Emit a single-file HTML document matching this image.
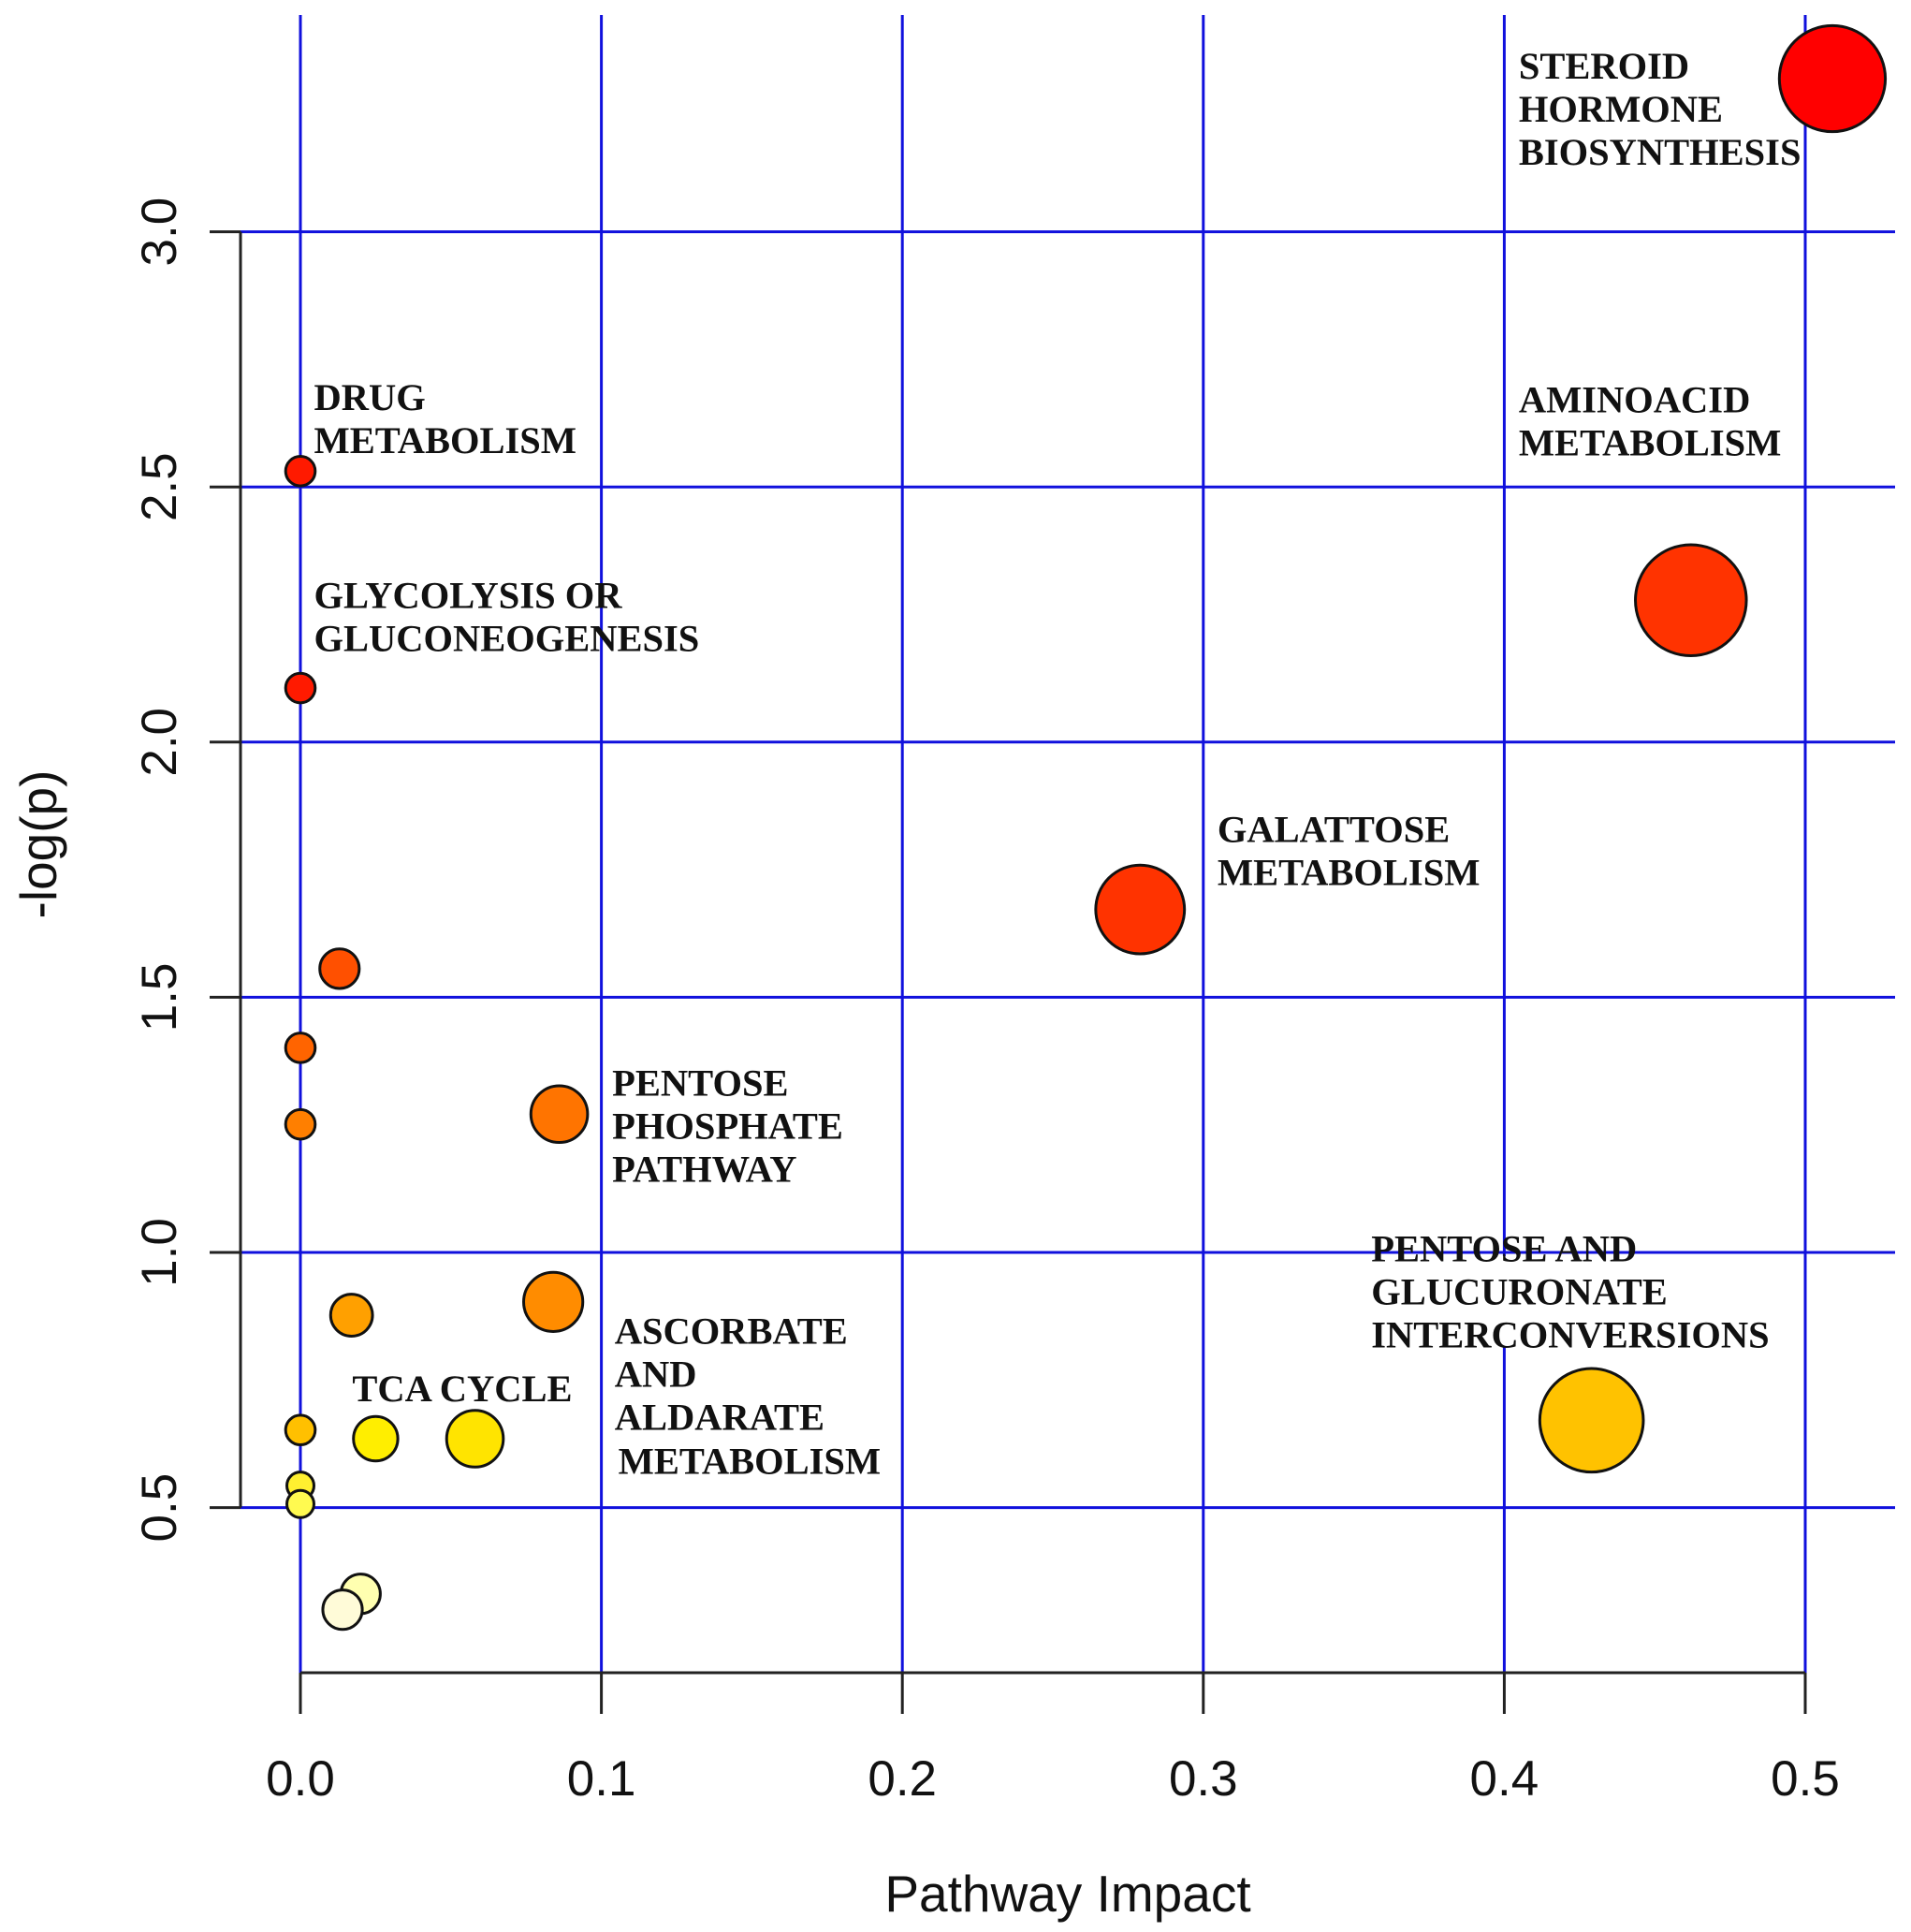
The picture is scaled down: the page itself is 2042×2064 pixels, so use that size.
<!DOCTYPE html>
<html><head><meta charset="utf-8"><style>
html,body{margin:0;padding:0;background:#fff;}
svg{display:block;}
.lbl{font-family:"Liberation Serif",serif;font-weight:bold;font-size:40.5px;fill:#111;}
.tick{font-family:"Liberation Sans",sans-serif;font-size:53px;fill:#111;}
.ttl{font-family:"Liberation Sans",sans-serif;font-size:55px;fill:#111;}
</style></head><body>
<svg id="chart" width="2042" height="2064" viewBox="0 0 2042 2064" xmlns="http://www.w3.org/2000/svg">
<g id="grid"></g>
<g id="axes"></g>
<g id="labels"></g>
<g id="points"></g>
</svg>
<script>
const impact = [0.509,0.462,0.279,0,0,0.013,0,0,0.086,0.084,0.017,0.429,0,0.025,0.058,0,0,0.020,0.014];
const logp = [3.30,2.278,1.672,2.531,2.106,1.556,1.401,1.251,1.271,0.903,0.877,0.671,0.652,0.635,0.635,0.543,0.507,0.331,0.300];
const bubbleSize = [43,45,36,12,12,16,12,12,23,24,17,42,12,18,23,11,11,16,16];
const colors = ["#ff0000","#ff3300","#ff3300","#ff1a00","#ff1a00","#ff5000","#ff6400","#ff7f00","#ff7400","#ff8c00","#ffa000","#ffc200","#ffc000","#ffee00","#ffe400","#fff030","#fffa50","#ffffb0","#fffbd8"];
const xTicks = [0,0.1,0.2,0.3,0.4,0.5];
const xTickLabels = ["0.0","0.1","0.2","0.3","0.4","0.5"];
const yTicks = [0.5,1.0,1.5,2.0,2.5,3.0];
const yTickLabels = ["0.5","1.0","1.5","2.0","2.5","3.0"];
const labelTexts = [
 {x:0.4048,y:3.30,lines:["STEROID","HORMONE","BIOSYNTHESIS"]},
 {x:0.0045,y:2.651,lines:["DRUG","METABOLISM"]},
 {x:0.4048,y:2.646,lines:["AMINOACID","METABOLISM"]},
 {x:0.0045,y:2.263,lines:["GLYCOLYSIS OR","GLUCONEOGENESIS"]},
 {x:0.3047,y:1.804,lines:["GALATTOSE","METABOLISM"]},
 {x:0.1036,y:1.307,lines:["PENTOSE","PHOSPHATE","PATHWAY"]},
 {x:0.3558,y:0.983,lines:["PENTOSE AND","GLUCURONATE","INTERCONVERSIONS"]},
 {x:0.1044,y:0.821,lines:["ASCORBATE","AND","ALDARATE"]},
 {x:0.0172,y:0.708,lines:["TCA CYCLE"]}
];
const extraLabel = {x:0.1056,y:0.566,lines:["METABOLISM"]};
const NS="http://www.w3.org/2000/svg";
const X0=321, XU=3216, Y3=247.6, YU=545.2, K=1.317;
function sx(v){return X0+v*XU;}
function sy(v){return Y3+(3.0-v)*YU;}
function mk(tag,attrs,parent){const e=document.createElementNS(NS,tag);for(const k in attrs)e.setAttribute(k,attrs[k]);parent.appendChild(e);return e;}
const grid=document.getElementById('grid'),axes=document.getElementById('axes'),labels=document.getElementById('labels'),points=document.getElementById('points');
const TOP=16,BOTTOM=1787,LEFT=257,RIGHT=2025;
xTicks.forEach((t,i)=>{
 const l=mk('line',{x1:sx(t),x2:sx(t),y1:TOP,y2:BOTTOM,stroke:'#1010dd','stroke-width':3},grid);
 
 
 const tk=mk('line',{x1:sx(t),x2:sx(t),y1:BOTTOM,y2:1831,stroke:'#222','stroke-width':3},axes);
 
 
 const tx=mk('text',{x:sx(t),y:1918,'text-anchor':'middle',class:'tick'},axes);
 tx.textContent=xTickLabels[i];
 
 
});
const bg=mk('rect',{x:sx(0.4)-12,y:sy(1.0)+4,width:24,height:96,fill:'#fff'},grid);


yTicks.forEach((t,i)=>{
 const l=mk('line',{x1:LEFT,x2:RIGHT,y1:sy(t),y2:sy(t),stroke:'#1010dd','stroke-width':3},grid);
 
 
 const tk=mk('line',{x1:224,x2:LEFT,y1:sy(t),y2:sy(t),stroke:'#222','stroke-width':3},axes);
 
 
 const tx=mk('text',{x:0,y:0,'text-anchor':'middle',class:'tick',transform:`translate(188,${sy(t)}) rotate(-90)`},axes);
 tx.textContent=yTickLabels[i];
 
 
});
const ya=mk('line',{x1:LEFT,x2:LEFT,y1:sy(3.0),y2:sy(0.5),stroke:'#222','stroke-width':3},axes);


const xa=mk('line',{x1:sx(0),x2:sx(0.5),y1:BOTTOM,y2:BOTTOM,stroke:'#222','stroke-width':3},axes);


const yt=mk('text',{x:0,y:0,'text-anchor':'middle',class:'ttl',transform:'translate(60,902) rotate(-90)'},axes);
yt.textContent='-log(p)';


const xt=mk('text',{x:1141,y:2042,'text-anchor':'middle',class:'ttl'},axes);
xt.textContent='Pathway Impact';


function drawLabel(d,name){
 const g=mk('g',{},labels);
 
 
 d.lines.forEach((ln,j)=>{
  const t=mk('text',{x:sx(d.x),y:sy(d.y)+j*46,class:'lbl'},g);
  t.textContent=ln;
 });
 return g;
}
labelTexts.forEach((d)=>drawLabel(d,'pathway-label'));
drawLabel(extraLabel,'pathway-label');
impact.forEach((v,i)=>{
 const c=mk('circle',{cx:sx(v),cy:sy(logp[i]),r:bubbleSize[i]*K,fill:colors[i],stroke:'#111','stroke-width':3},points);
 
 
});
</script>
</body></html>
